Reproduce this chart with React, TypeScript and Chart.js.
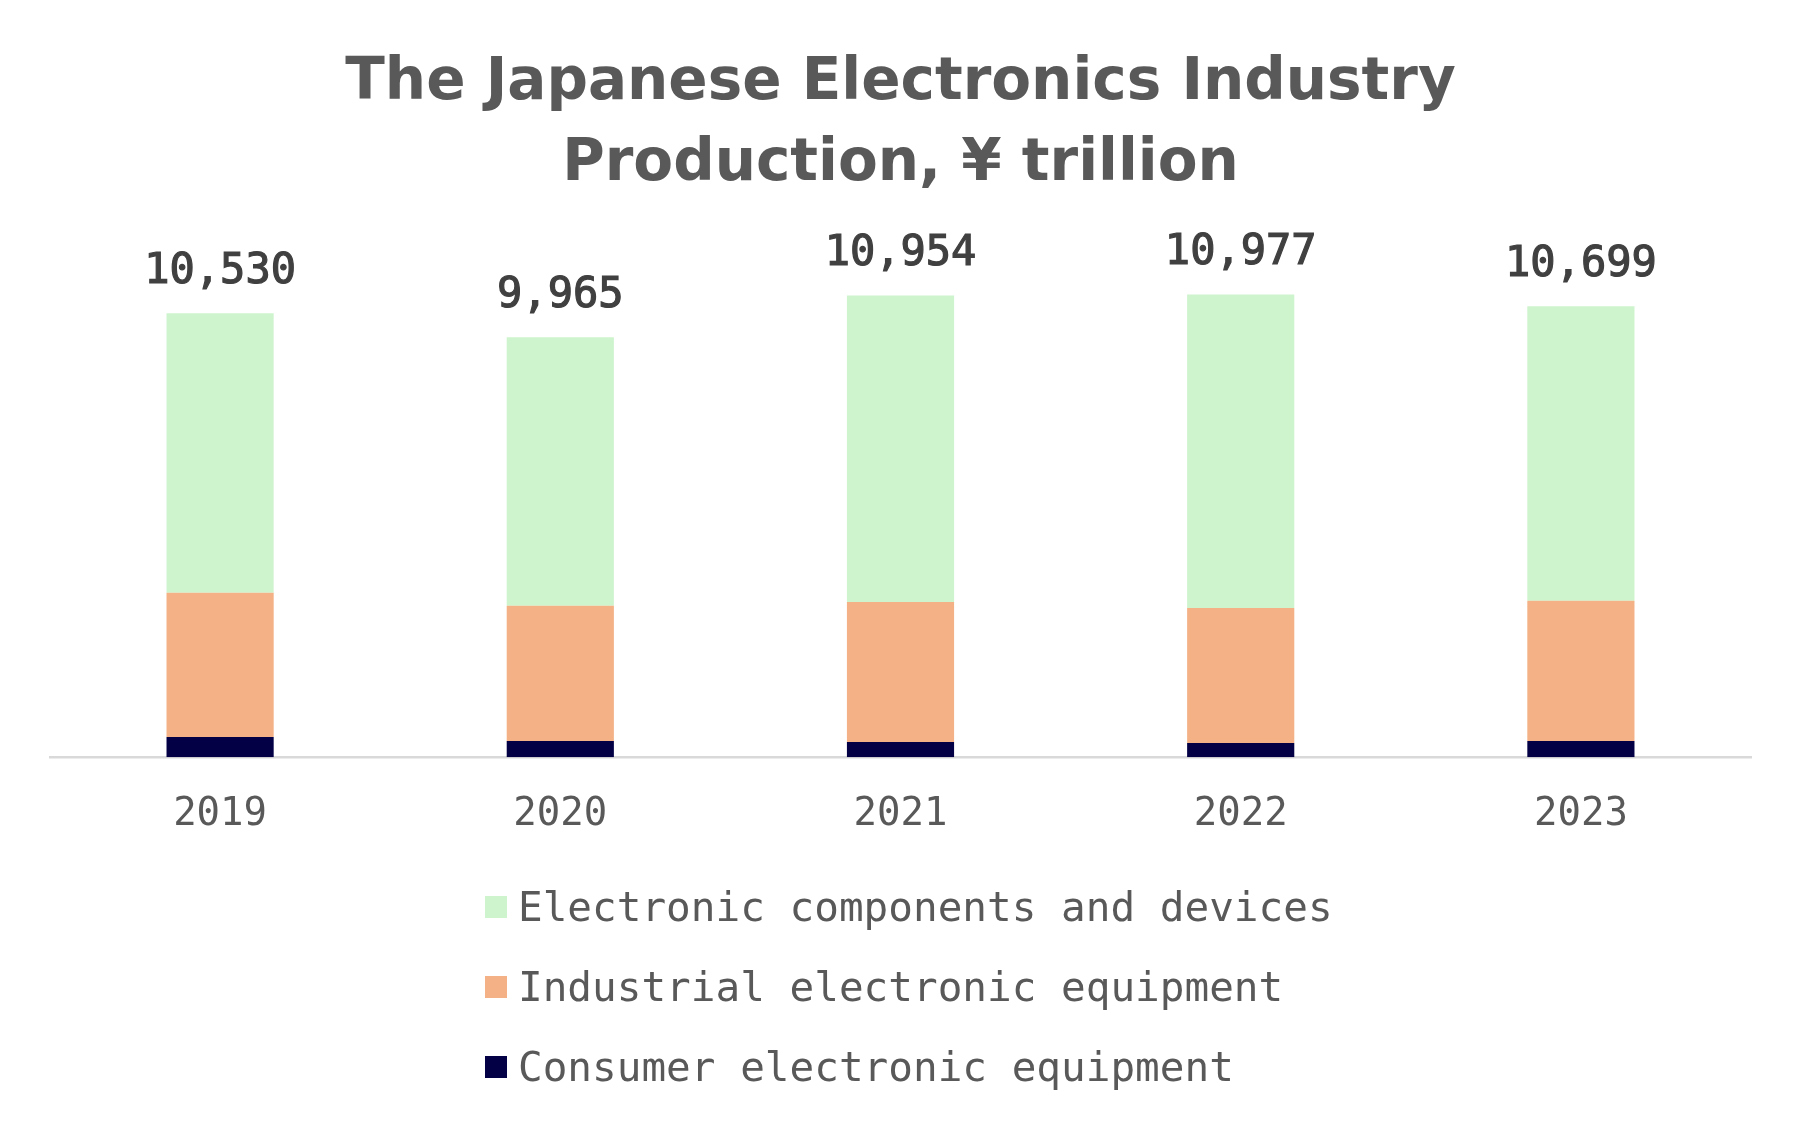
import React, { useEffect, useRef } from "react";
import { Chart, registerables } from "chart.js";

Chart.register(...registerables);

const years = ["2019", "2020", "2021", "2022", "2023"];
const totals = [10530, 9965, 10954, 10977, 10699];
const consumer = [479, 383, 359, 335, 383];
const industrial = [3423, 3207, 3325, 3205, 3327];
const components = [6628, 6375, 7270, 7437, 6989];
const seriesNames = [
  "Electronic components and devices",
  "Industrial electronic equipment",
  "Consumer electronic equipment",
];
const seriesColors = ["#CEF4CE", "#F3B185", "#030046"];
const titleLines = ["The Japanese Electronics Industry", "Production, ¥ trillion"];

const MONO = "'DejaVu Sans Mono', 'Liberation Mono', monospace";

const totalLabels = {
  id: "totalLabels",
  afterDatasetsDraw(chart: any) {
    const ctx = chart.ctx;
    const xs = chart.scales.x;
    const ys = chart.scales.y;
    ctx.save();
    ctx.font = `normal 42px ${MONO}`;
    ctx.fillStyle = "#404040";
    ctx.strokeStyle = "#404040";
    ctx.lineWidth = 1.2;
    ctx.textAlign = "center";
    ctx.textBaseline = "alphabetic";
    totals.forEach((t, i) => {
      const x = xs.getPixelForValue(i);
      const y = ys.getPixelForValue(t) - 30;
      const s = t.toLocaleString("en-US");
      ctx.fillText(s, x, y);
      ctx.strokeText(s, x, y);
    });
    ctx.restore();
  },
};

export default function App() {
  const ref = useRef<HTMLCanvasElement | null>(null);
  useEffect(() => {
    if (!ref.current) return;
    const chart = new Chart(ref.current, {
      type: "bar",
      data: {
        labels: years,
        datasets: [
          { label: seriesNames[2], data: consumer, backgroundColor: seriesColors[2] },
          { label: seriesNames[1], data: industrial, backgroundColor: seriesColors[1] },
          { label: seriesNames[0], data: components, backgroundColor: seriesColors[0] },
        ],
      },
      options: {
        responsive: false,
        animation: false,
        layout: { padding: { left: 42, right: 46, top: 0, bottom: 256 } },
        datasets: { bar: { barPercentage: 0.315, categoryPercentage: 1 } },
        plugins: {
          legend: { display: false },
          tooltip: { enabled: false },
          title: {
            display: true,
            text: titleLines,
            color: "#595959",
            font: { family: "'DejaVu Sans', sans-serif", size: 58, weight: "bold", lineHeight: 1.4 },
            padding: { top: 35, bottom: 27 },
          },
        },
        scales: {
          x: {
            stacked: true,
            grid: { display: false, drawTicks: false },
            border: { display: true, color: "#D9D9D9", width: 2.5 },
            ticks: { color: "#595959", font: { family: MONO, size: 39 }, padding: 34 },
          },
          y: {
            stacked: true,
            display: false,
            min: 0,
            max: 12450,
          },
        },
      },
      plugins: [totalLabels],
    } as any);
    return () => chart.destroy();
  }, []);

  const legendOrder = [0, 1, 2];
  return (
    <div style={{ position: "relative", width: 1789, height: 1120 }}>
      <canvas ref={ref} width={1789} height={1120} style={{ display: "block", width: 1789, height: 1120 }} />
      <div style={{ position: "absolute", left: 477, top: 859 }}>
        {legendOrder.map((k) => (
          <div key={k} style={{ display: "flex", alignItems: "center", height: 80 }}>
            <span style={{ display: "inline-block", width: 22, height: 22, background: seriesColors[k], marginRight: 11 }} />
            <span style={{ fontFamily: MONO, fontSize: 41, color: "#595959", whiteSpace: "nowrap" }}>{seriesNames[k]}</span>
          </div>
        ))}
      </div>
    </div>
  );
}
